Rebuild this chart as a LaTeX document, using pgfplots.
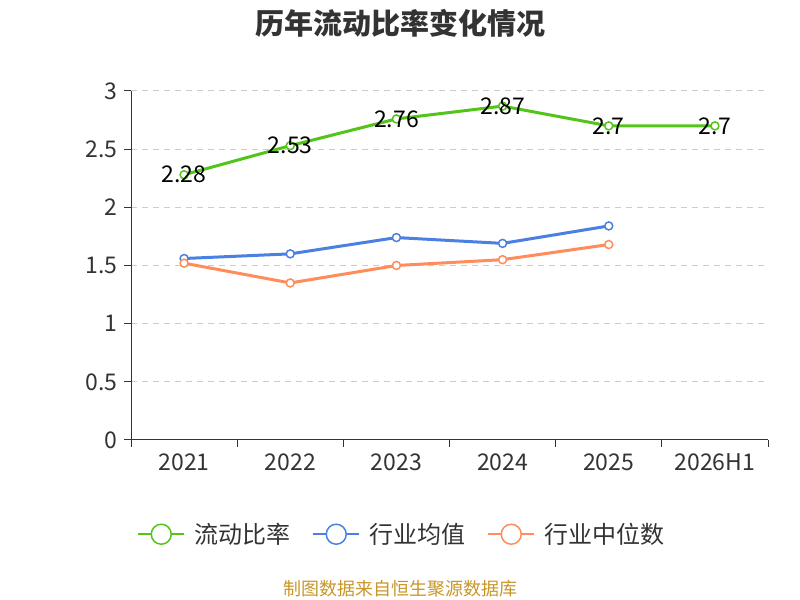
\documentclass[border=0pt]{standalone}
\usepackage{fontspec}
\setmainfont{Noto Sans CJK SC}
\usepackage{pgfplots}
\pgfplotsset{compat=1.18}
\definecolor{cgreen}{RGB}{82,196,26}
\definecolor{cblue}{RGB}{74,128,226}
\definecolor{corange}{RGB}{255,140,90}
\definecolor{ctext}{RGB}{51,51,51}
\definecolor{cgrid}{RGB}{204,204,204}
\definecolor{csrc}{RGB}{200,150,40}
\begin{document}
\begin{tikzpicture}[x=1bp,y=1bp]
\path[use as bounding box] (0,0) rectangle (800,600);
\node[font=\fontsize{29bp}{33bp}\selectfont\bfseries, text=ctext] at (400,577) {历年流动比率变化情况};
\node[font=\fontsize{18bp}{21bp}\selectfont, text=csrc] at (400,11) {制图数据来自恒生聚源数据库};
\begin{axis}[
  at={(131bp,160bp)}, anchor=south west,
  scale only axis, width=637bp, height=349bp,
  xmin=-0.5, xmax=5.5, ymin=0, ymax=3,
  axis x line=bottom, axis y line=left,
  axis line style={-, ctext, line width=1bp},
  xtick={0,1,2,3,4,5},
  xticklabels={2021,2022,2023,2024,2025,2026H1},
  minor xtick={-0.5,0.5,1.5,2.5,3.5,4.5,5.5},
  major x tick style={draw=none},
  minor x tick style={ctext, line width=1bp},
  minor tick length=7bp,
  ytick={0,0.5,1,1.5,2,2.5,3},
  yticklabels={0,0.5,1,1.5,2,2.5,3},
  y tick style={ctext, line width=1bp},
  major tick length=7bp,
  tick align=outside,
  ymajorgrids, grid style={cgrid, line width=1bp, dash pattern=on 6bp off 5bp},
  tick label style={font=\fontsize{23bp}{27bp}\selectfont, text=ctext},
  /pgf/number format/assume math mode=true,
  xticklabel style={yshift=-3bp},
  yticklabel style={xshift=-3bp},
  legend style={at={(0.425,-0.27)}, anchor=center, draw=none, fill=none,
    font=\fontsize{24bp}{28bp}\selectfont, text=ctext, legend columns=3,
    /tikz/every odd column/.append style={column sep=7bp},
    /tikz/every even column/.append style={column sep=20bp}},
  legend image code/.code={
    \draw[line width=2bp] (0bp,0bp) -- (46bp,0bp);
    \draw[line width=1.5bp, fill=white] (23bp,0bp) circle (10bp);
  },
]
\addplot[cgreen, line width=3bp, mark=*, mark size=4bp, mark options={fill=white, line width=1.5bp},
  nodes near coords, point meta=explicit symbolic,
  every node near coord/.style={anchor=center, font=\fontsize{23bp}{27bp}\selectfont, text=black}]
  coordinates {(0,2.28)[2.28] (1,2.53)[2.53] (2,2.76)[2.76] (3,2.87)[2.87] (4,2.7)[2.7] (5,2.7)[2.7]};
\addlegendentry{流动比率}
\addplot[cblue, line width=3bp, mark=*, mark size=4bp, mark options={fill=white, line width=1.5bp}]
  coordinates {(0,1.56) (1,1.60) (2,1.74) (3,1.69) (4,1.84)};
\addlegendentry{行业均值}
\addplot[corange, line width=3bp, mark=*, mark size=4bp, mark options={fill=white, line width=1.5bp}]
  coordinates {(0,1.52) (1,1.35) (2,1.50) (3,1.55) (4,1.68)};
\addlegendentry{行业中位数}
\end{axis}
\end{tikzpicture}
\end{document}
